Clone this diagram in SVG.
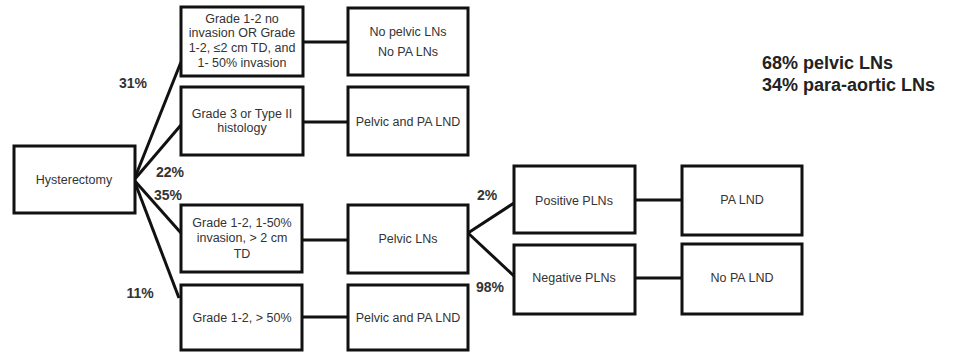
<svg xmlns="http://www.w3.org/2000/svg" width="966" height="354" viewBox="0 0 966 354">
<style>
.box{fill:#fff;stroke:#111;stroke-width:3}
.t{font-family:"Liberation Sans",Arial,sans-serif;font-size:12.5px;fill:#333;text-anchor:middle;dominant-baseline:central}
.p{font-family:"Liberation Sans",Arial,sans-serif;font-size:14px;font-weight:bold;fill:#333;text-anchor:middle;dominant-baseline:central}
.big{font-family:"Liberation Sans",Arial,sans-serif;font-size:18px;font-weight:bold;fill:#222}
.c{stroke:#111;stroke-width:3;fill:none}
</style>
<rect width="966" height="354" fill="#fff"/>
<g id="connectors">
<line class="c" x1="134" y1="180" x2="181" y2="62"/>
<line class="c" x1="134" y1="180" x2="181" y2="125"/>
<line class="c" x1="134" y1="180" x2="181" y2="233"/>
<line class="c" x1="134" y1="180" x2="179" y2="298"/>
<line class="c" x1="303" y1="42" x2="348" y2="42"/>
<line class="c" x1="303" y1="122" x2="348" y2="122"/>
<line class="c" x1="303" y1="240" x2="348" y2="240"/>
<line class="c" x1="303" y1="317" x2="348" y2="317"/>
<line class="c" x1="468" y1="233" x2="514" y2="203"/>
<line class="c" x1="468" y1="233" x2="514" y2="276"/>
<line class="c" x1="635" y1="200" x2="682" y2="200"/>
<line class="c" x1="635" y1="278" x2="682" y2="278"/>
</g>
<g id="n-hyst"><rect class="box" x="14" y="146" width="121" height="67"/><text class="t" x="74" y="180">Hysterectomy</text></g>
<g id="n-g12no"><rect class="box" x="181" y="7" width="122" height="69"/>
<text class="t" x="242" y="19">Grade 1-2 no</text><text class="t" x="242" y="33">invasion OR Grade</text><text class="t" x="242" y="48">1-2, ≤2 cm TD, and</text><text class="t" x="242" y="63">1- 50% invasion</text></g>
<g id="n-g3"><rect class="box" x="181" y="87" width="122" height="68"/>
<text class="t" x="242" y="114">Grade 3 or Type II</text><text class="t" x="242" y="128">histology</text></g>
<g id="n-g12b"><rect class="box" x="181" y="205" width="121" height="67"/>
<text class="t" x="242" y="223">Grade 1-2, 1-50%</text><text class="t" x="242" y="238">invasion, &gt; 2 cm</text><text class="t" x="242" y="254">TD</text></g>
<g id="n-g12c"><rect class="box" x="181" y="285" width="121" height="65"/>
<text class="t" x="242" y="318">Grade 1-2, &gt; 50%</text></g>
<g id="n-nopelvic"><rect class="box" x="348" y="8" width="120" height="67"/>
<text class="t" x="408" y="32">No pelvic LNs</text><text class="t" x="408" y="52">No PA LNs</text></g>
<g id="n-pelvicpa1"><rect class="box" x="348" y="87" width="120" height="68"/>
<text class="t" x="408" y="122">Pelvic and PA LND</text></g>
<g id="n-pelvicln"><rect class="box" x="348" y="205" width="120" height="68"/>
<text class="t" x="408" y="239">Pelvic LNs</text></g>
<g id="n-pelvicpa2"><rect class="box" x="348" y="285" width="120" height="65"/>
<text class="t" x="408" y="318">Pelvic and PA LND</text></g>
<g id="n-pos"><rect class="box" x="514" y="166" width="121" height="67"/>
<text class="t" x="574" y="201">Positive PLNs</text></g>
<g id="n-neg"><rect class="box" x="514" y="245" width="121" height="69"/>
<text class="t" x="574" y="278">Negative PLNs</text></g>
<g id="n-palnd"><rect class="box" x="682" y="166" width="120" height="69"/>
<text class="t" x="742" y="200">PA LND</text></g>
<g id="n-nopalnd"><rect class="box" x="682" y="244" width="120" height="70"/>
<text class="t" x="742" y="278">No PA LND</text></g>
<g id="labels">
<text class="p" x="133" y="83">31%</text>
<text class="p" x="170" y="172">22%</text>
<text class="p" x="168" y="195">35%</text>
<text class="p" x="140" y="293">11%</text>
<text class="p" x="487" y="195">2%</text>
<text class="p" x="490" y="287">98%</text>
<text class="big" x="762" y="69">68% pelvic LNs</text>
<text class="big" x="762" y="91">34% para-aortic LNs</text>
</g>
</svg>
